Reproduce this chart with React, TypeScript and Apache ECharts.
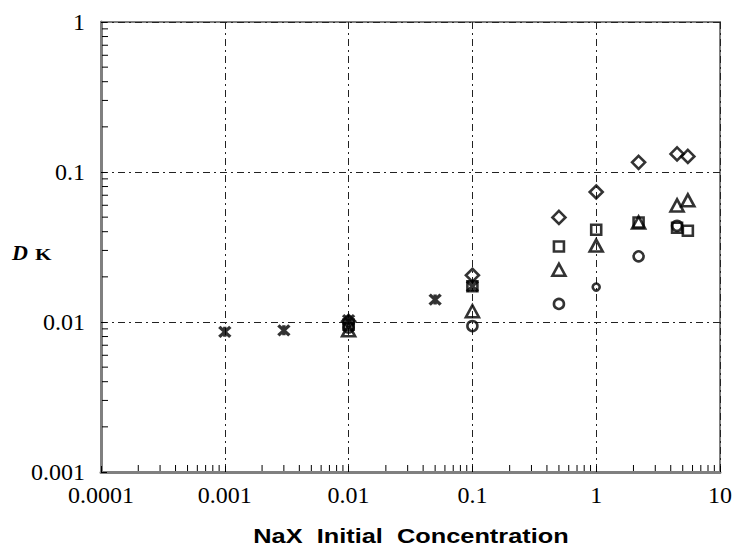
import React, { useEffect, useRef } from 'react';
import * as echarts from 'echarts';

// Axis tick labels
const xTickLabels = ['0.0001', '0.001', '0.01', '0.1', '1', '10'];
const yTickLabels = ['0.001', '0.01', '0.1', '1'];

// Series values (NaX initial concentration vs D_K)
const diamondX = [0.01, 0.1, 0.5, 1, 2.2, 4.5, 5.5];
const diamondY = [0.0101, 0.0205, 0.0498, 0.0736, 0.116, 0.132, 0.127];

const squareX = [0.01, 0.1, 0.5, 1, 2.2, 4.5, 5.5];
const squareY = [0.0096, 0.0173, 0.0319, 0.0412, 0.0461, 0.0425, 0.0406];

const triangleX = [0.01, 0.1, 0.5, 1, 2.2, 4.5, 5.5];
const triangleY = [0.0088, 0.0118, 0.0223, 0.0323, 0.0461, 0.0599, 0.0647];

const circleX = [0.01, 0.1, 0.5, 1, 2.2, 4.5];
const circleY = [0.0092, 0.0094, 0.0132, 0.0171, 0.0274, 0.0438];

const starX = [0.001, 0.003, 0.01, 0.05, 0.1];
const starY = [0.0086, 0.0088, 0.0103, 0.0141, 0.0173];

const zip = (xs: number[], ys: number[]) => xs.map((x, i) => [x, ys[i]]);

const minorValues = (lo: number, hi: number) => {
  const out: number[] = [];
  for (let e = lo; e < hi; e++) {
    for (let m = 2; m <= 9; m++) out.push(m * Math.pow(10, e));
  }
  return out;
};

const X_MIN = 0.0001;
const X_MAX = 10;
const Y_MIN = 0.001;
const Y_MAX = 1;

const DIAMOND = 'path://M5,0L10,5L5,10L0,5Z';
const STAR = 'path://M0,0L10,10M10,0L0,10M5,0L5,10';

export default function App() {
  const ref = useRef<HTMLDivElement>(null);

  useEffect(() => {
    const chart = echarts.init(ref.current!, null, { renderer: 'svg' });
    const markerStyle = {
      color: 'rgba(0,0,0,0)',
      borderColor: '#000',
      borderWidth: 2.6,
    };
    const labelFromLog = (labels: string[], min: number) => (v: number) => {
      const idx = Math.round(Math.log10(v) - Math.log10(min));
      return labels[idx] ?? '';
    };

    const xMinor = minorValues(-4, 1).map((v) => [v, Y_MIN]);
    const yMinor = minorValues(-3, 0).map((v) => [X_MIN, v]);
    const serif = "'Liberation Serif', 'Times New Roman', serif";

    const option: any = {
      animation: false,
      backgroundColor: '#fff',
      grid: {
        left: 101,
        right: 13,
        top: 22,
        bottom: 80,
        show: true,
        borderColor: '#808080',
        borderWidth: 2,
        backgroundColor: 'transparent',
      },
      xAxis: {
        type: 'log',
        logBase: 10,
        min: X_MIN,
        max: X_MAX,
        axisLine: { show: true, lineStyle: { color: '#808080', width: 3 } },
        axisTick: { show: true, inside: true, length: 6, lineStyle: { color: '#000', width: 1 } },
        axisLabel: {
          formatter: labelFromLog(xTickLabels, X_MIN),
          fontFamily: serif,
          fontSize: 24,
          color: '#000',
          margin: 11,
        },
        splitLine: { show: true, lineStyle: { color: '#222', width: 1, type: [7, 4, 2, 4] } },
      },
      yAxis: {
        type: 'log',
        logBase: 10,
        min: Y_MIN,
        max: Y_MAX,
        axisLine: { show: true, lineStyle: { color: '#808080', width: 3 } },
        axisTick: { show: true, inside: true, length: 6, lineStyle: { color: '#000', width: 1 } },
        axisLabel: {
          formatter: labelFromLog(yTickLabels, Y_MIN),
          fontFamily: serif,
          fontSize: 24,
          color: '#000',
          margin: 16,
        },
        splitLine: { show: true, lineStyle: { color: '#222', width: 1, type: [7, 4, 2, 4] } },
      },
      graphic: [
        {
          type: 'text',
          x: 12,
          y: 263,
          style: {
            text: 'D',
            fontFamily: serif,
            fontWeight: 'bold',
            fontStyle: 'italic',
            fontSize: 22,
            fill: '#000',
            verticalAlign: 'bottom',
          },
        },
        {
          type: 'text',
          x: 35,
          y: 263,
          scaleX: 1.25,
          originX: 0,
          style: {
            text: 'K',
            fontFamily: serif,
            fontWeight: 'bold',
            fontSize: 17,
            fill: '#000',
            verticalAlign: 'bottom',
          },
        },
        {
          type: 'text',
          x: 411,
          y: 537,
          scaleX: 1.3,
          style: {
            text: 'NaX  Initial  Concentration',
            fontFamily: "'Liberation Sans', Arial, sans-serif",
            fontWeight: 'bold',
            fontSize: 19.5,
            fill: '#000',
            align: 'center',
            verticalAlign: 'middle',
          },
        },
      ],
      series: [
        {
          type: 'custom',
          silent: true,
          clip: false,
          data: xMinor,
          renderItem: (_p: any, api: any) => {
            const pt = api.coord([api.value(0), api.value(1)]);
            return {
              type: 'line',
              shape: { x1: pt[0], y1: pt[1] - 1, x2: pt[0], y2: pt[1] - 7 },
              style: { stroke: '#000', lineWidth: 1 },
            };
          },
          z: 5,
        },
        {
          type: 'custom',
          silent: true,
          clip: false,
          data: yMinor,
          renderItem: (_p: any, api: any) => {
            const pt = api.coord([api.value(0), api.value(1)]);
            return {
              type: 'line',
              shape: { x1: pt[0] + 1, y1: pt[1], x2: pt[0] + 7, y2: pt[1] },
              style: { stroke: '#000', lineWidth: 1 },
            };
          },
          z: 5,
        },
        {
          type: 'scatter',
          name: 'diamond',
          data: zip(diamondX, diamondY),
          symbol: DIAMOND,
          symbolSize: 13,
          itemStyle: markerStyle,
          z: 10,
        },
        {
          type: 'scatter',
          name: 'square',
          data: zip(squareX, squareY),
          symbol: 'rect',
          symbolSize: 10,
          itemStyle: markerStyle,
          z: 10,
        },
        {
          type: 'scatter',
          name: 'triangle',
          data: zip(triangleX, triangleY),
          symbol: 'triangle',
          symbolSize: [13, 12],
          itemStyle: markerStyle,
          z: 10,
        },
        {
          type: 'scatter',
          name: 'circle',
          data: zip(circleX, circleY).map((d) => (d[0] === 1 ? { value: d, symbolSize: 7 } : d)),
          symbol: 'circle',
          symbolSize: 10,
          itemStyle: markerStyle,
          z: 10,
        },
        {
          type: 'scatter',
          name: 'star',
          data: zip(starX, starY),
          symbol: STAR,
          symbolSize: [11, 10],
          itemStyle: { color: 'rgba(0,0,0,0)', borderColor: '#000', borderWidth: 3.2 },
          z: 10,
        },
      ],
    };
    chart.setOption(option);
    return () => chart.dispose();
  }, []);

  return (
    <div
      ref={ref}
      style={{ position: 'fixed', left: 0, top: 0, width: 735, height: 552, background: '#fff' }}
    />
  );
}
